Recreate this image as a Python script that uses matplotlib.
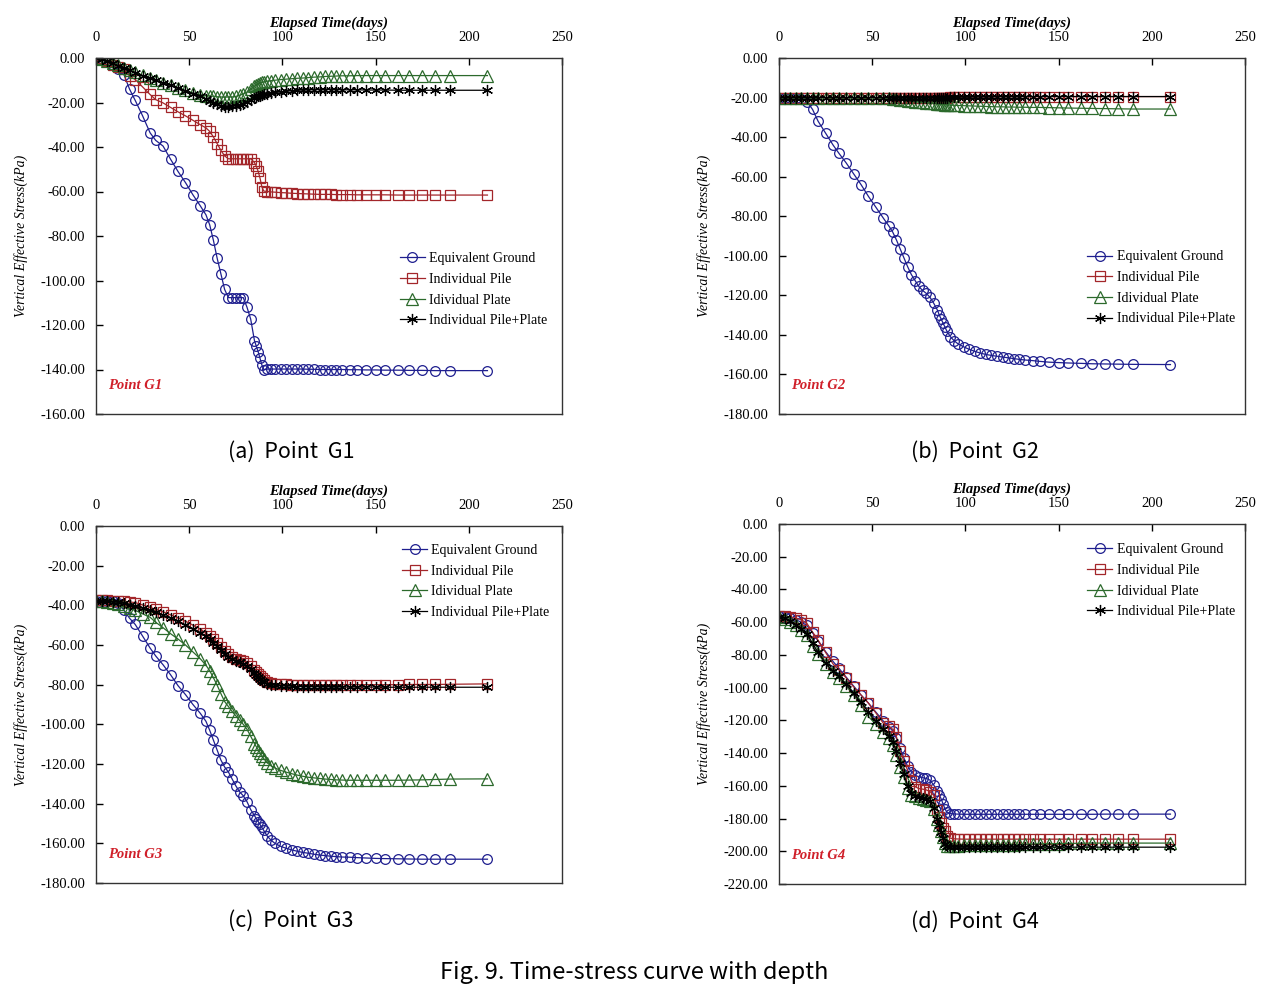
import matplotlib
matplotlib.use("Agg")
import matplotlib.pyplot as plt

# elapsed time of each recorded step (days)
days = [0, 3, 6, 9, 12, 15, 18, 21, 25, 29, 32, 36, 40, 44, 48, 52, 56, 59, 61, 63,
        65, 67, 69, 71, 73, 75, 77, 79, 81, 83, 85, 86, 87, 88, 89, 90, 92, 94, 96, 99,
        102, 105, 108, 111, 114, 117, 120, 123, 126, 129, 132, 136, 140, 145, 150, 155,
        162, 168, 175, 182, 190, 210]

series_names = ["Equivalent Ground", "Individual Pile", "Idividual Plate", "Individual Pile+Plate"]

# Point G1
g1_ground = [0, -0.5, -1.5, -3, -5, -7.5, -14, -19, -26, -33.6, -37, -39.6, -45.5, -51, -56, -61.5,
             -66.5, -70.5, -75, -82, -90, -97, -104, -107.7, -107.7, -107.7, -107.7, -107.7, -112,
             -117.4, -127, -129.5, -132, -135, -138, -140, -139.8, -139.8, -139.8, -139.8, -139.8,
             -139.8, -139.8, -139.8, -139.9, -139.9, -140, -140, -140, -140, -140, -140.1, -140.1,
             -140.2, -140.2, -140.3, -140.3, -140.4, -140.4, -140.5, -140.5, -140.5]
g1_pile = [0, -0.5, -1.5, -3, -4, -5, -8, -9.7, -13, -16.4, -18.7, -20.2, -22.2, -24.2, -26, -28,
           -30, -31.4, -33, -35.5, -38.5, -41.5, -44, -45.3, -45.3, -45.3, -45.3, -45.3, -45.3,
           -45.3, -47, -48.6, -51, -54, -58, -59.8, -60, -60.2, -60.3, -60.5, -60.6, -60.8, -60.9,
           -61, -61.1, -61.2, -61.3, -61.3, -61.3, -61.4, -61.4, -61.4, -61.5, -61.5, -61.5, -61.5,
           -61.6, -61.6, -61.6, -61.6, -61.6, -61.6]
g1_plate = [0, -0.5, -1.2, -2.2, -3.3, -4.5, -5.5, -6.5, -7.8, -9.2, -10, -11.2, -12.2, -13.3,
            -14.6, -15.7, -16.5, -16.9, -17.1, -17.2, -17.4, -17.5, -17.6, -17.5, -17.5, -17.3,
            -16.8, -16.2, -15.3, -14, -12.7, -12.2, -11.7, -11.3, -11, -10.7, -10.4, -10.2, -10,
            -9.7, -9.5, -9.3, -9.1, -9, -8.8, -8.6, -8.5, -8.3, -8.2, -8.1, -8, -8, -7.9, -7.9,
            -7.9, -7.9, -7.9, -7.9, -7.9, -7.9, -7.9, -7.9]
g1_pileplate = [0, -0.5, -1.3, -2.4, -3.5, -4.3, -5.5, -6.7, -8, -9, -10, -11.3, -12.3, -13.5,
                -14.8, -16, -17.3, -18.4, -19.2, -20, -20.8, -21.5, -21.8, -21.8, -21.6, -21.4,
                -21, -20.5, -19.8, -18.8, -18, -17.5, -17.2, -16.9, -16.6, -16.3, -16, -15.7,
                -15.5, -15.3, -15, -14.7, -14.5, -14.4, -14.3, -14.3, -14.2, -14.2, -14.2, -14.2,
                -14.3, -14.3, -14.3, -14.4, -14.4, -14.4, -14.5, -14.5, -14.5, -14.5, -14.5, -14.5]

# Point G2
g2_ground = [-20, -20, -20, -20, -20.5, -22, -26, -32, -38, -44, -48, -53, -58.5, -64, -70, -75.5,
             -81, -85, -88, -92, -96.5, -101, -105.5, -109.5, -112.5, -115.5, -117.5, -119, -121,
             -124, -127.5, -130, -132, -134, -136, -138, -141, -143, -144.5, -146, -147.3, -148.3,
             -149.2, -149.9, -150.4, -150.8, -151.2, -151.6, -152, -152.4, -152.7, -153, -153.4,
             -153.8, -154, -154.2, -154.4, -154.6, -154.7, -154.8, -154.9, -155]
g2_pile = [-20, -20, -20, -20, -20, -20, -20, -20, -20, -20, -20, -20, -20, -20, -20, -20, -20,
           -20, -20, -20, -20, -20, -20, -20, -20, -20, -20, -20, -20, -20, -20, -20, -20, -20,
           -20, -20, -19.9, -19.9, -19.8, -19.8, -19.8, -19.7, -19.7, -19.7, -19.7, -19.6, -19.6,
           -19.6, -19.6, -19.6, -19.5, -19.5, -19.5, -19.5, -19.5, -19.5, -19.5, -19.5, -19.5,
           -19.5, -19.5, -19.5]
g2_plate = [-20, -20, -20, -20, -20, -20, -20, -20, -20, -20, -20, -20, -20, -20, -20, -20.1,
            -20.2, -20.3, -20.5, -20.7, -21, -21.2, -21.5, -21.7, -22, -22.2, -22.4, -22.6, -22.8,
            -23, -23.2, -23.3, -23.4, -23.5, -23.6, -23.7, -23.8, -23.9, -24, -24.1, -24.2,
            -24.3, -24.4, -24.5, -24.6, -24.7, -24.7, -24.8, -24.8, -24.9, -24.9, -25, -25,
            -25.1, -25.2, -25.3, -25.4, -25.5, -25.6, -25.7, -25.8, -25.8]
g2_pileplate = [-20, -20, -20, -20, -20, -20, -20, -20, -20, -20, -20, -20, -20, -20, -20, -20,
                -20, -20, -20, -20, -20, -20, -20, -20, -20, -20, -20, -20, -20, -20, -20, -20,
                -20, -20, -20, -20, -19.9, -19.9, -19.8, -19.8, -19.8, -19.7, -19.7, -19.7, -19.7,
                -19.6, -19.6, -19.6, -19.6, -19.6, -19.5, -19.5, -19.5, -19.5, -19.5, -19.5,
                -19.5, -19.5, -19.5, -19.5, -19.5, -19.5]

# Point G3
g3_ground = [-38, -38, -38, -38, -39, -42.5, -46.5, -49.6, -55.5, -61.5, -65.5, -70, -75, -80.5,
             -85, -90, -94.5, -98.5, -103, -108, -113, -118, -121.5, -124, -127.5, -131, -134,
             -136, -139, -143, -146, -147.5, -149, -150.5, -152, -153.5, -156.5, -158.5, -160,
             -161.5, -162.5, -163.3, -164, -164.6, -165, -165.5, -165.9, -166.2, -166.5, -166.7,
             -166.9, -167, -167.2, -167.4, -167.6, -167.7, -167.8, -167.9, -168, -168, -168, -168]
g3_pile = [-37.5, -37.5, -37.5, -37.6, -37.8, -38, -38.3, -38.6, -39.8, -41, -42, -43.3, -44.8,
           -46.3, -48, -50, -52, -54, -55.5, -57, -59, -61, -63, -64.7, -66, -67, -67.5, -68, -69,
           -70.5, -72.5, -73.5, -74.7, -75.8, -76.8, -77.7, -78.7, -79.2, -79.5, -79.7, -79.9,
           -80, -80, -80, -80, -80, -80, -80, -80, -80, -80, -80, -80, -80, -80, -80, -80, -79.9,
           -79.9, -79.9, -79.8, -79.6]
g3_plate = [-38, -38, -38.2, -38.6, -39.5, -40.5, -41.5, -42.5, -44.3, -46, -48.5, -51.3, -54.3,
            -57, -60, -63.5, -67, -70.2, -73, -76.5, -80.3, -84.5, -88.5, -91, -93.5, -95.7, -98,
            -100, -102.5, -106, -109.7, -111.3, -112.8, -114.3, -115.8, -117.3, -119.5, -121,
            -122, -123.2, -124.1, -124.9, -125.6, -126.2, -126.7, -127, -127.3, -127.6, -127.8,
            -128, -128.1, -128.2, -128.2, -128.2, -128.2, -128.2, -128.2, -128.1, -128, -127.8,
            -127.6, -127.5]
g3_pileplate = [-38, -38, -38, -38.2, -38.5, -39, -39.6, -40.3, -41.5, -42.6, -43.6, -45, -46.5,
                -48, -49.8, -51.7, -53.7, -55.5, -57, -58.8, -60.7, -62.6, -64.4, -65.8, -67, -68,
                -68.8, -69.5, -70.5, -72, -74, -75, -76, -77, -78, -78.8, -79.6, -80, -80.3,
                -80.5, -80.7, -80.8, -81, -81, -81, -81.1, -81.1, -81.1, -81.2, -81.2, -81.2,
                -81.2, -81.2, -81.2, -81.2, -81.3, -81.3, -81.3, -81.3, -81.3, -81.3, -81.3]

# Point G4
g4_ground = [-56.5, -57, -57.5, -58.5, -60, -62, -66.5, -71.5, -78, -84, -88, -93.5, -99, -104.5,
             -109.5, -115, -120.5, -124, -126.5, -131, -137, -143, -148, -151.5, -153.5, -154.5,
             -155, -155.5, -156.5, -159.5, -163, -165.5, -168, -171, -174, -176, -177, -177.2,
             -177.3, -177.4, -177.4, -177.4, -177.4, -177.4, -177.4, -177.4, -177.4, -177.4,
             -177.4, -177.4, -177.4, -177.4, -177.4, -177.4, -177.4, -177.4, -177.4, -177.4,
             -177.3, -177.3, -177.3, -177.3]
g4_pile = [-56.3, -56.5, -57, -57.5, -58.5, -60.8, -66, -71, -78.5, -85.5, -89, -94, -99.5, -104.5,
           -109.5, -115.5, -121.8, -123.5, -125.5, -130, -138.5, -145, -150.5, -157, -160.5,
           -161.7, -162, -162.5, -163.5, -165.8, -175, -179, -183, -185.5, -187.5, -190.5, -192,
           -192.4, -192.5, -192.6, -192.6, -192.6, -192.6, -192.6, -192.6, -192.6, -192.6, -192.6,
           -192.6, -192.6, -192.6, -192.6, -192.6, -192.6, -192.6, -192.6, -192.6, -192.6,
           -192.6, -192.6, -192.6, -192.6]
g4_plate = [-57, -58, -59.7, -62, -64.5, -68, -74.5, -79.5, -85.5, -90.5, -94, -99, -104.5, -110.5,
            -117.7, -122.5, -127, -131, -135, -141, -148.5, -154.5, -161.5, -165.8, -166.5,
            -167.3, -168, -168.5, -169.5, -174, -180.5, -184, -187.5, -191.5, -195, -196.5, -197,
            -197, -196.5, -196.3, -196.2, -196.1, -196, -196, -196, -196, -196, -196, -195.9,
            -195.8, -195.7, -195.6, -195.5, -195.4, -195.3, -195.2, -195.1, -195, -195, -195,
            -195, -195]
g4_pileplate = [-57, -57.5, -59, -61.5, -64, -67, -73, -78.5, -85, -90, -93, -98, -103.5, -109,
                -115, -120.5, -125.5, -129.5, -133, -139, -146, -153, -160, -164.5, -166, -167,
                -167.5, -168, -169, -173.5, -180, -184, -188, -192, -195.5, -197, -197.5, -197.5,
                -197.5, -197.5, -197.5, -197.5, -197.5, -197.5, -197.5, -197.5, -197.5, -197.5,
                -197.5, -197.5, -197.5, -197.5, -197.5, -197.5, -197.5, -197.5, -197.5, -197.5,
                -197.5, -197.5, -197.5, -197.5]

panels = [
    ("Point G1", "(a)  Point  G1", -160, [g1_ground, g1_pile, g1_plate, g1_pileplate]),
    ("Point G2", "(b)  Point  G2", -180, [g2_ground, g2_pile, g2_plate, g2_pileplate]),
    ("Point G3", "(c)  Point  G3", -180, [g3_ground, g3_pile, g3_plate, g3_pileplate]),
    ("Point G4", "(d)  Point  G4", -220, [g4_ground, g4_pile, g4_plate, g4_pileplate]),
]

W, H = 1276, 990
# axes boxes in pixels: left, top, right, bottom
boxes = [(96, 58, 562, 414), (779, 58, 1245, 414), (96, 526, 562, 883), (779, 524, 1245, 884)]
legend_anchor = [(0.64, 0.47), (0.65, 0.475), (0.645, 0.965), (0.65, 0.962)]
caption_x = [291, 975, 291, 975]

colors = ["#1f1f8f", "#a3262a", "#2c6a2c", "#000000"]
markers = ["o", "s", "^", (6, 2, 0)]
msizes = [7.0, 7.5, 8.5, 8.0]

serif = "Liberation Serif"
cap_font = ["Noto Sans CJK KR", "DejaVu Sans"]

fig = plt.figure(figsize=(W / 100, H / 100), dpi=100)

for (tag, caption, ymin, data), box, anc, cx in zip(panels, boxes, legend_anchor, caption_x):
    l, t, r, b = box
    ax = fig.add_axes([l / W, 1 - b / H, (r - l) / W, (b - t) / H])
    for vals, name, c, m, ms in zip(data, series_names, colors, markers, msizes):
        ax.plot(days, vals, color=c, lw=0.9, marker=m, ms=ms, mfc="none",
                mec=c, mew=0.9, label=name)
    ax.set_xlim(0, 250)
    ax.set_ylim(ymin, 0)
    ax.set_xticks(range(0, 251, 50))
    ax.set_yticks(range(ymin, 1, 20))
    ax.set_yticklabels(["%.2f" % abs(v) if v == 0 else "%.2f" % v for v in range(ymin, 1, 20)])
    ax.xaxis.tick_top()
    ax.xaxis.set_label_position("top")
    ax.tick_params(direction="in", length=5, width=1, labelsize=10.5)
    ax.tick_params(axis="x", pad=10)
    ax.tick_params(axis="y", pad=8)
    for lab in ax.get_xticklabels() + ax.get_yticklabels():
        lab.set_fontfamily(serif)
    for sp in ax.spines.values():
        sp.set_color("#333333")
        sp.set_linewidth(1.0)
    ax.set_xlabel("Elapsed Time(days)", fontfamily=serif, fontstyle="italic",
                  fontweight="bold", fontsize=10.5, labelpad=3)
    ax.set_ylabel("Vertical Effective Stress(kPa)", fontfamily=serif, fontstyle="italic",
                  fontsize=10, labelpad=9)
    ax.text(0.025, 0.07, tag, transform=ax.transAxes, color="#d0202a", fontfamily=serif,
            fontstyle="italic", fontweight="bold", fontsize=10.5)
    ax.legend(loc="upper left", bbox_to_anchor=anc, frameon=False,
              prop={"family": serif, "size": 10}, handlelength=1.8,
              handletextpad=0.3, labelspacing=0.55, borderaxespad=0)
    fig.text(cx / W, 1 - (b + 38) / H, caption, ha="center", va="center",
             fontsize=15.5, family=cap_font)

fig.text(634 / W, 1 - 973 / H, "Fig. 9. Time-stress curve with depth", ha="center",
         va="center", fontsize=17, family=cap_font)

fig.savefig("out.png", dpi=100, facecolor="white")
